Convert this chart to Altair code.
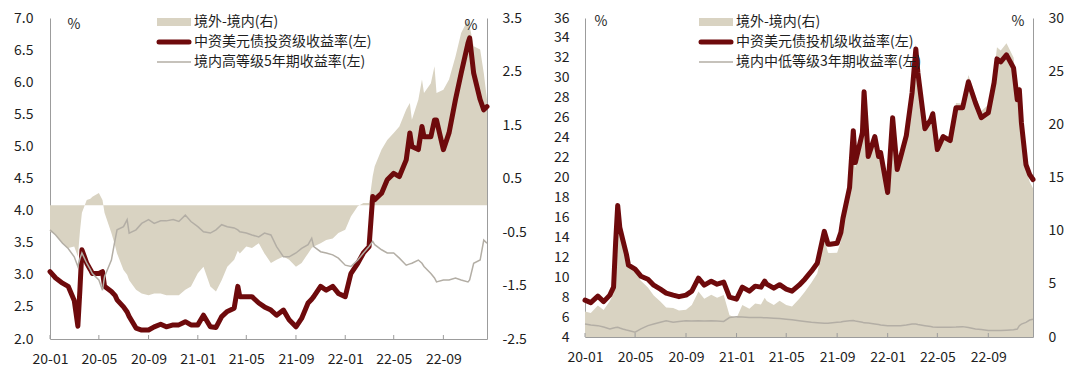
import altair as alt
import pandas as pd

FONT = "Noto Sans CJK SC"
BEIGE = "#d9d3c2"
RED = "#6e0a0c"
GRAY = "#b3aea5"
AXIS = "#9c9c9c"
TEXT = "#1e1e1e"

# ---------------- shared x axis ----------------
TICK_DATES = ["2020-01-01", "2020-05-01", "2020-09-01", "2021-01-01", "2021-05-01",
              "2021-09-01", "2022-01-01", "2022-05-01", "2022-09-01"]
X_START = "2020-01-01"
X_END = "2022-12-18"

# ---------------- left panel: investment grade ----------------
L_DATES = [
    "2020-01-01", "2020-01-15", "2020-02-01", "2020-02-15", "2020-03-01", "2020-03-10", "2020-03-15", "2020-03-20",
    "2020-04-01", "2020-04-10", "2020-04-15", "2020-05-01", "2020-05-10", "2020-05-15", "2020-06-01", "2020-06-10",
    "2020-06-15", "2020-07-01", "2020-07-10", "2020-07-15", "2020-08-01", "2020-08-15", "2020-09-01", "2020-09-15",
    "2020-10-01", "2020-10-15", "2020-11-01", "2020-11-15", "2020-12-01", "2020-12-15",
    "2021-01-01", "2021-01-15", "2021-02-01", "2021-02-15", "2021-03-01", "2021-03-15", "2021-04-01", "2021-04-10",
    "2021-04-15", "2021-05-01", "2021-05-15", "2021-06-01", "2021-06-15", "2021-07-01", "2021-07-15", "2021-08-01",
    "2021-08-15", "2021-09-01", "2021-09-15", "2021-10-01", "2021-10-10", "2021-10-15", "2021-11-01", "2021-11-15",
    "2021-12-01", "2021-12-15",
    "2022-01-01", "2022-01-15", "2022-02-01", "2022-02-15", "2022-03-01", "2022-03-10", "2022-03-15", "2022-04-01",
    "2022-04-15", "2022-05-01", "2022-05-15", "2022-06-01", "2022-06-10", "2022-06-15", "2022-07-01", "2022-07-10",
    "2022-07-15", "2022-08-01", "2022-08-10", "2022-08-15", "2022-09-01", "2022-09-15", "2022-10-01", "2022-10-15",
    "2022-11-01", "2022-11-05", "2022-11-15", "2022-12-01", "2022-12-10", "2022-12-18"]

L_USD_IG = [
    3.05, 2.95, 2.87, 2.82, 2.60, 2.20, 2.76, 3.39, 3.18, 3.08, 3.02, 3.02, 3.05, 2.82, 2.74, 2.68,
    2.61, 2.50, 2.42, 2.35, 2.17, 2.14, 2.14, 2.19, 2.23, 2.19, 2.22, 2.22, 2.27, 2.22,
    2.22, 2.37, 2.19, 2.18, 2.35, 2.43, 2.48, 2.82, 2.66, 2.66, 2.66, 2.56, 2.50, 2.45, 2.37, 2.45,
    2.30, 2.19, 2.32, 2.56, 2.62, 2.66, 2.82, 2.76, 2.82, 2.71,
    2.66, 3.02, 3.18, 3.34, 3.44, 4.22, 4.17, 4.27, 4.48, 4.58, 4.53, 4.79, 5.21, 5.00, 4.95, 5.31,
    5.15, 5.15, 5.41, 5.41, 4.95, 5.21, 5.73, 6.14, 6.61, 6.69, 6.14, 5.73, 5.57, 5.62]

L_ONSHORE_5Y = [
    3.70, 3.62, 3.49, 3.41, 3.28, 3.13, 3.25, 3.34, 3.18, 3.08, 3.02, 2.92, 2.76, 2.97, 3.23, 3.54,
    3.70, 3.75, 3.86, 3.65, 3.70, 3.80, 3.86, 3.80, 3.84, 3.84, 3.86, 3.83, 3.93, 3.83,
    3.75, 3.67, 3.65, 3.70, 3.78, 3.75, 3.73, 3.70, 3.67, 3.65, 3.62, 3.59, 3.65, 3.62, 3.44, 3.28,
    3.28, 3.34, 3.41, 3.47, 3.57, 3.44, 3.36, 3.34, 3.31, 3.26,
    3.15, 3.13, 3.23, 3.34, 3.44, 3.52, 3.47, 3.39, 3.34, 3.34, 3.26, 3.15, 3.17, 3.18, 3.23, 3.18,
    3.13, 3.02, 2.95, 2.89, 2.92, 2.92, 2.95, 2.92, 2.89, 2.92, 3.18, 3.23, 3.54, 3.49]

L_SPREAD = [
    -0.49, -0.55, -0.71, -0.80, -0.77, -0.96, -0.50, -0.14, 0.10, 0.12, 0.16, 0.23, 0.10, -0.14, -0.52, -0.75,
    -0.90, -1.21, -1.30, -1.40, -1.58, -1.65, -1.68, -1.65, -1.65, -1.68, -1.68, -1.68, -1.58, -1.52,
    -1.27, -1.15, -1.52, -1.61, -1.40, -1.15, -1.02, -0.85, -0.90, -0.77, -0.80, -0.71, -0.90, -1.08, -1.02, -0.96,
    -1.02, -1.15, -1.08, -0.90, -0.80, -0.77, -0.71, -0.65, -0.62, -0.52,
    -0.46, -0.21, -0.02, 0.04, 0.04, 0.54, 0.73, 1.04, 1.22, 1.35, 1.47, 1.79, 1.91, 1.60, 1.97, 2.35,
    2.10, 2.28, 2.60, 2.10, 2.16, 2.35, 2.78, 3.22, 3.47, 3.35, 2.97, 2.91, 2.47, 1.97]

L_LEFT_TICKS = [2.0, 2.5, 3.0, 3.5, 4.0, 4.5, 5.0, 5.5, 6.0, 6.5, 7.0]
L_RIGHT_TICKS = [-2.5, -1.5, -0.5, 0.5, 1.5, 2.5, 3.5]
L_LEGEND = ["境外-境内(右)", "中资美元债投资级收益率(左)", "境内高等级5年期收益率(左)"]

# ---------------- right panel: high yield ----------------
R_DATES = [
    "2020-01-01", "2020-01-15", "2020-02-01", "2020-02-15", "2020-03-01", "2020-03-10", "2020-03-15", "2020-03-20",
    "2020-03-25", "2020-04-01", "2020-04-10", "2020-04-15", "2020-05-01", "2020-05-15", "2020-06-01", "2020-06-15",
    "2020-07-01", "2020-07-15", "2020-08-01", "2020-08-15", "2020-09-01", "2020-09-15", "2020-10-01", "2020-10-15",
    "2020-11-01", "2020-11-15", "2020-12-01", "2020-12-15",
    "2021-01-01", "2021-01-15", "2021-02-01", "2021-02-15", "2021-03-01", "2021-03-10", "2021-03-15", "2021-04-01",
    "2021-04-15", "2021-05-01", "2021-05-15", "2021-06-01", "2021-06-15", "2021-07-01", "2021-07-15", "2021-08-01",
    "2021-08-10", "2021-08-15", "2021-09-01", "2021-09-10", "2021-09-15", "2021-10-01", "2021-10-10", "2021-10-15",
    "2021-11-01", "2021-11-05", "2021-11-15", "2021-12-01", "2021-12-10", "2021-12-15",
    "2022-01-01", "2022-01-13", "2022-01-24", "2022-02-01", "2022-02-15", "2022-03-01", "2022-03-10", "2022-03-15",
    "2022-04-01", "2022-04-15", "2022-04-20", "2022-05-01", "2022-05-15", "2022-06-01", "2022-06-15", "2022-07-01",
    "2022-07-15", "2022-08-01", "2022-08-15", "2022-09-01", "2022-09-15", "2022-09-22", "2022-10-01", "2022-10-15",
    "2022-11-01", "2022-11-10", "2022-11-15", "2022-11-20", "2022-12-01", "2022-12-10", "2022-12-18"]

R_USD_HY = [
    7.70, 7.45, 8.10, 7.55, 8.20, 9.00, 13.5, 17.2, 15.0, 13.8, 12.3, 11.2, 10.8, 10.1, 9.80, 9.20,
    8.80, 8.40, 8.20, 8.05, 8.20, 8.60, 9.90, 9.20, 9.60, 9.30, 9.50, 8.00,
    7.80, 9.00, 8.60, 9.10, 9.00, 9.60, 9.30, 8.90, 9.25, 8.80, 8.60, 9.20, 9.80, 10.6, 11.4, 14.6,
    13.3, 13.3, 13.4, 14.5, 15.9, 19.0, 24.7, 21.5, 24.5, 28.6, 22.1, 24.1, 22.1, 22.5,
    18.5, 26.0, 20.8, 22.0, 24.2, 28.5, 32.9, 30.5, 24.9, 25.8, 26.4, 22.8, 24.1, 23.7, 27.0, 27.0,
    29.6, 27.5, 26.0, 26.5, 29.5, 31.9, 31.6, 32.3, 31.0, 27.8, 28.8, 25.5, 21.3, 20.3, 19.8]

R_ONSHORE_3Y = [
    5.30, 5.20, 5.14, 5.00, 4.81, 4.90, 4.95, 4.98, 4.90, 4.80, 4.70, 4.65, 4.49, 4.81, 5.14, 5.30,
    5.47, 5.63, 5.47, 5.55, 5.63, 5.60, 5.63, 5.60, 5.63, 5.60, 5.56, 5.95,
    6.02, 6.00, 5.95, 5.95, 5.95, 5.92, 5.92, 5.89, 5.85, 5.79, 5.72, 5.63, 5.55, 5.47, 5.42, 5.37,
    5.37, 5.40, 5.47, 5.50, 5.55, 5.63, 5.65, 5.60, 5.47, 5.42, 5.40, 5.30, 5.25, 5.20,
    5.14, 5.14, 5.14, 5.14, 5.20, 5.30, 5.30, 5.25, 5.14, 5.05, 5.00, 4.98, 4.98, 4.98, 5.00, 5.04,
    4.95, 4.81, 4.75, 4.65, 4.65, 4.65, 4.65, 4.68, 4.72, 4.80, 5.14, 5.30, 5.47, 5.70, 5.79]

R_SPREAD = [
    2.40, 2.25, 2.96, 2.55, 3.39, 4.10, 8.55, 11.5, 10.1, 9.00, 7.60, 6.55, 6.31, 5.29, 4.66, 3.90,
    3.33, 2.77, 2.73, 2.50, 2.57, 3.00, 4.27, 3.60, 3.97, 3.70, 3.94, 2.05,
    1.78, 3.00, 2.65, 3.15, 3.05, 3.68, 3.38, 3.01, 3.40, 3.01, 2.88, 3.57, 4.25, 5.13, 5.98, 9.23,
    7.93, 7.90, 7.93, 9.00, 10.35, 13.37, 19.05, 15.9, 19.03, 23.18, 16.7, 18.8, 16.85, 17.3,
    13.36, 20.86, 15.66, 16.86, 19.0, 23.2, 27.6, 25.25, 19.76, 20.75, 21.4, 17.82, 19.12, 18.72, 22.0, 21.96,
    24.65, 22.69, 21.25, 21.85, 24.85, 27.25, 26.95, 27.62, 26.28, 23.0, 23.66, 20.2, 15.83, 14.6, 14.0]

R_LEFT_TICKS = list(range(4, 37, 2))
R_RIGHT_TICKS = [0, 5, 10, 15, 20, 25, 30]
R_LEGEND = ["境外-境内(右)", "中资美元债投机级收益率(左)", "境内中低等级3年期收益率(左)"]

TOP = 18  # page y of plot top


def dt(s):
    y, m, d = (int(v) for v in s.split("-"))
    return alt.DateTime(year=y, month=m, date=d)


def one(text):
    return pd.DataFrame({"t": [text]})


def panel(dates, main, gray, spread, W, H, ldom, lticks, lfmt, lpad,
          rdom, rticks, rfmt, legend, leg_x, pct_left, pct_right):
    df = pd.DataFrame({"date": pd.to_datetime(dates), "main": main,
                       "gray": gray, "spread": spread})
    ticks_df = pd.DataFrame({"date": pd.to_datetime(TICK_DATES)})

    x = alt.X("date:T", title=None,
              scale=alt.Scale(domain=[dt(X_START), dt(X_END)], nice=False),
              axis=alt.Axis(values=[dt(s) for s in TICK_DATES], format="%y-%m",
                            labelFlush=False, labelPadding=13, ticks=False,
                            grid=False, labelAngle=0, labelOverlap=False))

    def yl(field):
        return alt.Y(field, title=None,
                     scale=alt.Scale(domain=ldom, nice=False, zero=False),
                     axis=alt.Axis(orient="left", values=lticks, format=lfmt,
                                   labelPadding=lpad, ticks=False, grid=False))

    area = alt.Chart(df).mark_area(color=BEIGE, opacity=1).encode(
        x=x,
        y=alt.Y("spread:Q", title=None,
                scale=alt.Scale(domain=rdom, nice=False, zero=False),
                axis=alt.Axis(orient="right", values=rticks,
                              labelExpr=f"replace(format(datum.value, '{rfmt}'), '\u2212', '-')",
                              labelPadding=15, ticks=False, grid=False)),
        y2=alt.datum(0))

    red = alt.Chart(df).mark_line(color=RED, strokeWidth=5, strokeJoin="round",
                                  strokeCap="round").encode(x=x, y=yl("main:Q"))
    grey = alt.Chart(df).mark_line(color=GRAY, strokeWidth=1.5).encode(x=x, y=yl("gray:Q"))
    tick_marks = alt.Chart(ticks_df).mark_rule(color=AXIS, strokeWidth=1).encode(
        x=x, y=alt.value(H - 4), y2=alt.value(H))

    lines = alt.layer(red, grey, tick_marks)

    # legend (decoration)
    r1, r2, r3 = 22 - TOP, 42 - TOP, 62 - TOP
    sw0, sw1 = leg_x, leg_x + 34
    deco = [
        alt.Chart(one("a")).mark_rect(color=BEIGE).encode(
            x=alt.value(sw0), x2=alt.value(sw1), y=alt.value(r1 - 4), y2=alt.value(r1 + 4)),
        alt.Chart(one("b")).mark_rule(color=RED, strokeWidth=5, strokeCap="round").encode(
            x=alt.value(sw0 + 2), x2=alt.value(sw1 - 2), y=alt.value(r2)),
        alt.Chart(one("c")).mark_rule(color=GRAY, strokeWidth=1.5).encode(
            x=alt.value(sw0), x2=alt.value(sw1), y=alt.value(r3)),
    ]
    for lab, yy in zip(legend, [r1, r2, r3]):
        deco.append(alt.Chart(one(lab)).mark_text(
            align="left", baseline="middle", font=FONT, fontSize=14, color=TEXT).encode(
            text="t:N", x=alt.value(sw1 + 3), y=alt.value(yy)))
    for (px, py) in [pct_left, pct_right]:
        deco.append(alt.Chart(one("%")).mark_text(
            align="center", baseline="middle", font=FONT, fontSize=14, color=TEXT).encode(
            text="t:N", x=alt.value(px), y=alt.value(py - TOP)))

    return alt.layer(area, lines, *deco).resolve_scale(y="independent").properties(
        width=W, height=H)


left = panel(L_DATES, L_USD_IG, L_ONSHORE_5Y, L_SPREAD, 437, 339 - TOP,
             [2.0, 7.0], L_LEFT_TICKS, ".1f", 17,
             [-2.5, 3.5], L_RIGHT_TICKS, ".1f",
             L_LEGEND, 107, (24, 25), (421, 25.5))

right = panel(R_DATES, R_USD_HY, R_ONSHORE_3Y, R_SPREAD, 448, 337 - TOP,
              [4, 36], R_LEFT_TICKS, "d", 16,
              [0, 30], R_RIGHT_TICKS, "d",
              R_LEGEND, 114, (16, 22), (433, 22))

chart = alt.hconcat(left, right, spacing=98, bounds="flush").properties(
    padding={"left": 5, "top": 3, "right": 5, "bottom": 0}
).configure_view(stroke=None).configure_axis(
    labelFont=FONT, labelFontSize=14, labelColor=TEXT,
    domainColor=AXIS, domainWidth=1
)

chart.save("out.html", embed_options={"renderer": "svg", "actions": False})
